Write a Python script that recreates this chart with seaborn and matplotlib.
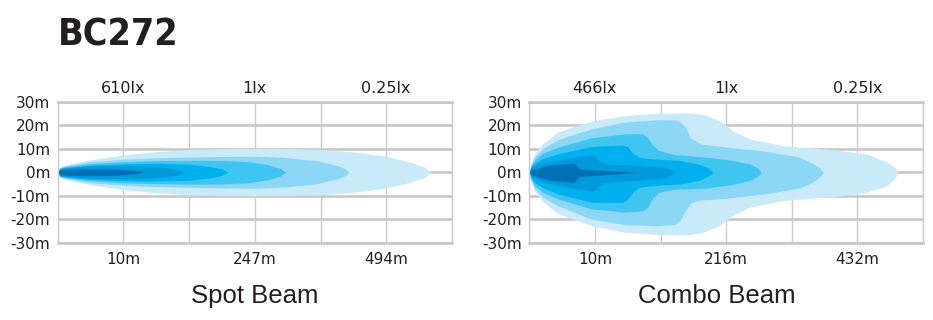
import matplotlib
matplotlib.use("Agg")
import matplotlib.pyplot as plt
import seaborn as sns

# ---- chart text ----
title = "BC272"
panel_names = ["Spot Beam", "Combo Beam"]
y_ticks = [-30, -20, -10, 0, 10, 20, 30]
y_labels = ["-30m", "-20m", "-10m", "0m", "10m", "20m", "30m"]
label_pos = [1, 3, 5]
spot_dist = ["10m", "247m", "494m"]
spot_lux = ["610lx", "1lx", "0.25lx"]
combo_dist = ["10m", "216m", "432m"]
combo_lux = ["466lx", "1lx", "0.25lx"]

# lightest (far) to darkest (near)
beam_colors = ["#c8eaf9", "#8dd7f6", "#40c5f1", "#00b0ee", "#0099d9", "#0071b6"]

# ---- spot beam: symmetric, x (grid divisions) and half width (m) ----
spot_x1 = [0, 0.03, 0.1, 0.47, 0.97, 1.48, 1.99, 2.5, 3.0, 3.5, 3.95, 4.46, 4.97, 5.38, 5.58, 5.68]
spot_w1 = [0, 2.0, 3.0, 5.2, 7.3, 8.7, 9.6, 10.0, 10.1, 10.0, 9.7, 8.7, 6.9, 4.2, 2.2, 0]
spot_x2 = [0, 0.03, 0.1, 0.47, 0.97, 1.5, 2.0, 2.5, 3.0, 3.45, 3.95, 4.26, 4.38, 4.43]
spot_w2 = [0, 1.9, 2.6, 4.4, 5.5, 6.1, 6.4, 6.7, 6.8, 6.3, 4.9, 2.8, 1.4, 0]
spot_x3 = [0, 0.03, 0.1, 0.47, 1.0, 1.5, 2.0, 2.5, 2.9, 3.2, 3.38, 3.47]
spot_w3 = [0, 1.7, 2.3, 3.6, 4.5, 4.9, 5.1, 5.0, 4.5, 3.2, 1.7, 0]
spot_x4 = [0, 0.03, 0.1, 0.47, 1.0, 1.5, 2.0, 2.3, 2.5, 2.59]
spot_w4 = [0, 1.5, 2.0, 3.0, 3.6, 3.8, 3.4, 2.5, 1.4, 0]
spot_x5 = [0, 0.03, 0.1, 0.47, 1.0, 1.4, 1.7, 1.86, 1.92]
spot_w5 = [0, 1.3, 1.8, 2.5, 2.8, 2.5, 1.8, 0.9, 0]
spot_x6 = [0, 0.03, 0.1, 0.4, 0.8, 1.05, 1.22, 1.3]
spot_w6 = [0, 0.9, 1.2, 1.5, 1.4, 1.0, 0.5, 0]

# ---- combo beam: x, upper edge, lower edge ----
combo_x1 = [0, 0.02, 0.08, 0.2, 0.43, 0.94, 1.45, 1.95, 2.46, 2.65, 2.9, 3.1, 3.36, 3.87, 4.63, 5.14, 5.45, 5.57, 5.62]
combo_t1 = [0, 3.5, 7.8, 12, 17, 21.7, 24.1, 25.1, 25.2, 24.6, 22, 17.7, 14.2, 11.3, 9.5, 7.8, 4.3, 2, 0]
combo_b1 = [0, -3.5, -8, -12.5, -17.5, -22.7, -25.5, -26.5, -26.5, -25.5, -22.7, -18.4, -14.9, -12, -10.4, -8.5, -5.7, -2.8, 0]
combo_x2 = [0, 0.02, 0.08, 0.2, 0.43, 0.94, 1.45, 1.95, 2.22, 2.3, 2.38, 2.46, 2.62, 2.97, 3.6, 4.12, 4.3, 4.42, 4.48]
combo_t2 = [0, 3, 6.4, 10, 13.8, 18.4, 21.3, 22.3, 22.2, 21.5, 19.0, 14.5, 12.0, 10.8, 8.9, 6.4, 4.0, 2.0, 0]
combo_b2 = [0, -3, -7, -10.5, -14.2, -19.9, -22.3, -22.8, -22.3, -20.5, -16.5, -13.0, -11.8, -11.2, -9.2, -6.7, -4.5, -2.2, 0]
combo_x3 = [0, 0.02, 0.08, 0.2, 0.43, 0.94, 1.45, 1.72, 1.8, 1.88, 1.98, 2.21, 2.72, 3.1, 3.36, 3.48, 3.53]
combo_t3 = [0, 2.5, 5.2, 8, 10.6, 14.6, 16.3, 16.4, 15, 11.5, 9.2, 7.5, 6.3, 5, 3.5, 1.8, 0]
combo_b3 = [0, -2.5, -5.7, -8.5, -11.3, -15.6, -17, -16.5, -15, -11, -8.5, -7.3, -6.7, -5.2, -3.5, -1.8, 0]
combo_x4 = [0, 0.02, 0.08, 0.2, 0.43, 0.94, 1.42, 1.5, 1.58, 1.68, 2.0, 2.3, 2.59, 2.72, 2.8]
combo_t4 = [0, 2, 3.8, 5.8, 7.8, 10.9, 11.6, 10.8, 8.0, 6.2, 5.4, 5.0, 3.3, 1.8, 0]
combo_b4 = [0, -2, -4.3, -6.5, -9.2, -12.8, -12.9, -11.5, -8.3, -6.4, -5.5, -5.0, -3.5, -1.8, 0]
combo_x5 = [0, 0.02, 0.08, 0.2, 0.43, 0.94, 1.0, 1.08, 1.18, 1.7, 2.06, 2.16, 2.22]
combo_t5 = [0, 1.5, 2.8, 4, 5.2, 7.5, 6.8, 4.5, 3.5, 2.8, 2.1, 1.1, 0]
combo_b5 = [0, -1.5, -2.4, -4, -5.7, -8.1, -7.5, -5.5, -4.3, -3.3, -2.4, -1.2, 0]
combo_x6 = [0, 0.02, 0.08, 0.33, 0.69, 0.72, 0.76, 1.19, 1.5, 1.6]
combo_t6 = [0, 0.8, 1.4, 3.1, 3.8, 2.6, 1.4, 0.7, 0.3, 0]
combo_b6 = [0, -0.8, -1.6, -3.5, -4.3, -3.0, -1.8, -1.0, -0.4, 0]

spot_layers = [(spot_x1, spot_w1), (spot_x2, spot_w2), (spot_x3, spot_w3),
               (spot_x4, spot_w4), (spot_x5, spot_w5), (spot_x6, spot_w6)]
combo_layers = [(combo_x1, combo_t1, combo_b1), (combo_x2, combo_t2, combo_b2),
                (combo_x3, combo_t3, combo_b3), (combo_x4, combo_t4, combo_b4),
                (combo_x5, combo_t5, combo_b5), (combo_x6, combo_t6, combo_b6)]

sns.set_style("white")
plt.rcParams['font.family'] = ['Liberation Sans', 'DejaVu Sans']
text_color = "#231f20"
grid_color = "#c8c8c8"
tick_font = "DejaVu Sans"


def style_axes(ax, dist, lux):
	ax.set_xlim(0, 6)
	ax.set_ylim(-30, 30)
	ax.set_axisbelow(True)
	ax.set_yticks(y_ticks, y_labels)
	ax.set_xticks(label_pos, dist)
	ax.set_xticks([0, 2, 4, 6], minor=True)
	ax.yaxis.grid(True, color=grid_color, lw=1.9)
	ax.xaxis.grid(True, which='both', color="#cdcdcd", lw=1.0)
	ax.tick_params(axis='both', which='both', length=0, labelsize=11, colors=text_color)
	ax.tick_params(axis='x', pad=6.5)
	ax.tick_params(axis='y', pad=5.5)
	for lab in ax.get_xticklabels() + ax.get_yticklabels():
		lab.set_family(tick_font)
	for side in ["left", "right"]:
		ax.spines[side].set_color("#cdcdcd")
		ax.spines[side].set_linewidth(1.0)
	for side in ["top", "bottom"]:
		ax.spines[side].set_color(grid_color)
		ax.spines[side].set_linewidth(1.9)
	top = ax.secondary_xaxis('top')
	top.set_xticks(label_pos, lux)
	top.tick_params(length=0, pad=4, labelsize=11.5, colors=text_color)
	for lab in top.get_xticklabels():
		lab.set_family(tick_font)
	top.spines['top'].set_visible(False)


fig = plt.figure(figsize=(9.33, 3.2), dpi=100)
ax_spot = fig.add_axes([0.0618, 0.2416, 0.4226, 0.4406])
ax_combo = fig.add_axes([0.5673, 0.2416, 0.4220, 0.4406])

for (x, w), c in zip(spot_layers, beam_colors):
	ax_spot.fill_between(x, [-v for v in w], w, color=c, lw=0)

for (x, t, b), c in zip(combo_layers, beam_colors):
	ax_combo.fill_between(x, b, t, color=c, lw=0)

style_axes(ax_spot, spot_dist, spot_lux)
style_axes(ax_combo, combo_dist, combo_lux)

fig.text(58 / 933, 1 - 46 / 320, title, fontsize=27, fontweight='bold', fontstretch='condensed',
	family=['DejaVu Sans'], color=text_color, va='baseline')
fig.text(255 / 933, 1 - 303 / 320, panel_names[0], fontsize=18.5, color=text_color,
	ha='center', va='baseline')
fig.text(717 / 933, 1 - 303 / 320, panel_names[1], fontsize=18.5, color=text_color,
	ha='center', va='baseline')

plt.savefig("out.png", dpi=100)
